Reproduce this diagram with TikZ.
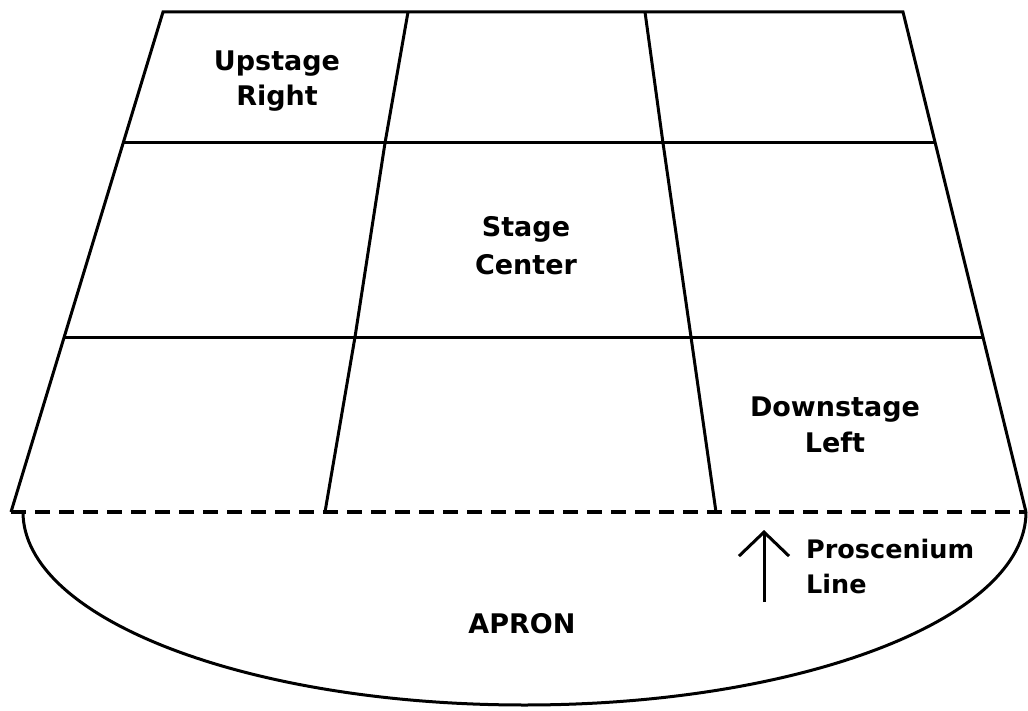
\documentclass[tikz,border=0pt]{standalone}
\usepackage{fontspec}
\setmainfont{DejaVu Sans}
\usetikzlibrary{arrows.meta}
\tikzset{
  wall/.style={line width=3pt, line join=miter},
  proline/.style={line width=3.3pt, dash pattern=on 15pt off 9pt},
  area/.style={font=\fontsize{27}{36}\selectfont\bfseries, align=center, inner sep=0pt},
  note/.style={font=\fontsize{25.5}{35}\selectfont\bfseries, align=left, inner sep=0pt},
  pointer/.style={line width=3pt, -{Straight Barb[length=24pt,width=50pt]}}
}
\begin{document}
\begin{tikzpicture}[x=1pt,y=-1pt]
\useasboundingbox (0,0) rectangle (1028,711);
% stage outline
\coordinate (tl) at (163,12);
\coordinate (tr) at (903,12);
\coordinate (bl) at (11,512);
\coordinate (br) at (1026,512);
\draw[wall] (bl) -- (tl) -- (tr) -- (br);
% horizontal rows
\draw[wall] (123,143) -- (936,143);
\draw[wall] (64,337) -- (983,337);
% dividers
\draw[wall] (408,12) -- (385,143) -- (355,337) -- (325,512);
\draw[wall] (645,12) -- (663,143) -- (691,337) -- (716,512);
% proscenium line
\draw[proline] (bl) -- (br);
% apron
\draw[wall] (23,512) arc[start angle=180, end angle=0, x radius=501.5, y radius=193];
% labels
\node[area] (ur) at (277,81.5) {Upstage\\[-1pt]Right};
\node[area] (sc) at (526,246) {Stage\\[2pt]Center};
\node[area] (dl) at (835,425) {Downstage\\Left};
\node[area, anchor=base] (apron) at (522,633) {APRON};
\node[note, anchor=north west] (pl) at (806,538.6) {Proscenium\\Line};
% arrow
\coordinate (abase) at (764,602);
\coordinate (atip) at (764,530);
\draw[pointer] (abase) -- (atip);
\end{tikzpicture}
\end{document}
